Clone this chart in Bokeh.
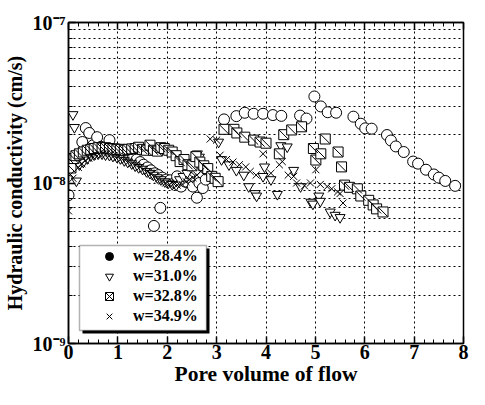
import numpy as np
from bokeh.plotting import figure
from bokeh.models import (LinearAxis, FixedTicker, CustomJSTickFormatter, Legend,
                          LegendItem, BoxAnnotation)
from bokeh.embed import file_html
from bokeh.resources import INLINE

# ---------------- data (pore volume of flow, hydraulic conductivity cm/s) ----------------
x_w284 = [0.00, 0.28, 0.35, 0.42, 0.50, 0.58, 0.66, 0.75, 0.83, 0.92, 1.00, 1.08, 1.15,
          1.22, 1.30, 1.38, 1.45, 1.52, 1.60, 1.67, 1.73, 1.75, 1.82, 1.86, 1.90, 1.98,
          2.06, 2.14, 2.20, 2.28, 2.36, 2.45, 2.52, 2.60, 2.65, 2.72, 2.78,
          3.15, 3.40, 3.57, 3.75, 3.94, 4.14, 4.31, 4.69, 4.82, 4.98, 5.11, 5.25, 5.42,
          5.77, 5.92, 6.01, 6.14, 6.45, 6.53, 6.63, 6.79, 6.98, 7.08, 7.24, 7.40, 7.50,
          7.63, 7.83]
k_w284 = [8.4e-9, 1.80e-8, 2.20e-8, 2.05e-8, 1.72e-8, 1.93e-8, 1.68e-8, 1.65e-8, 1.85e-8,
          1.60e-8, 1.62e-8, 1.58e-8, 1.55e-8, 1.50e-8, 1.45e-8, 1.40e-8, 1.35e-8, 1.30e-8,
          1.25e-8, 1.20e-8, 5.4e-9, 1.15e-8, 1.12e-8, 7.0e-9, 1.08e-8, 1.05e-8, 1.04e-8,
          1.00e-8, 1.10e-8, 9.5e-9, 1.02e-8, 1.08e-8, 9.5e-9, 8.1e-9, 1.00e-8, 9.3e-9,
          1.05e-8,
          2.49e-8, 2.61e-8, 2.74e-8, 2.70e-8, 2.70e-8, 2.65e-8, 2.62e-8, 2.63e-8, 2.52e-8,
          3.46e-8, 3.00e-8, 2.76e-8, 2.74e-8, 2.59e-8, 2.34e-8, 2.19e-8, 2.18e-8, 1.99e-8,
          1.84e-8, 1.69e-8, 1.56e-8, 1.36e-8, 1.32e-8, 1.21e-8, 1.13e-8, 1.08e-8, 1.03e-8,
          9.6e-9]

x_w310 = [0.00, 0.09, 0.12, 0.16, 0.22, 0.30, 0.38, 0.45, 0.52, 0.60, 0.68, 0.75, 0.83,
          0.90, 0.98, 1.05, 1.13, 1.20, 1.28, 1.35, 1.42, 1.50, 1.58, 1.65, 1.72, 1.80,
          1.87, 1.95, 2.02, 2.10, 2.18, 2.25, 2.32, 2.40, 2.48, 2.55, 2.61, 2.65, 2.72,
          2.80, 3.04, 3.10, 3.25, 3.40, 3.55, 3.65, 3.78, 3.81, 3.94, 3.97, 4.10, 4.23,
          4.30, 4.43, 4.56, 4.70, 4.91, 4.95, 5.07, 5.10, 5.30, 5.40, 5.50]
k_w310 = [1.30e-8, 2.67e-8, 2.22e-8, 1.03e-8, 1.30e-8, 1.35e-8, 1.42e-8, 1.48e-8, 1.50e-8,
          1.52e-8, 1.52e-8, 1.50e-8, 1.49e-8, 1.47e-8, 1.45e-8, 1.42e-8, 1.38e-8, 1.35e-8,
          1.32e-8, 1.28e-8, 1.25e-8, 1.22e-8, 1.18e-8, 1.15e-8, 1.12e-8, 1.08e-8, 1.05e-8,
          1.02e-8, 1.00e-8, 9.8e-9, 9.7e-9, 1.05e-8, 1.10e-8, 1.15e-8, 1.25e-8, 1.35e-8,
          1.52e-8, 1.45e-8, 1.30e-8, 1.20e-8, 1.80e-8, 1.40e-8, 1.30e-8, 1.20e-8, 1.12e-8,
          9.5e-9, 8.6e-9, 8.3e-9, 1.10e-8, 1.26e-8, 1.05e-8, 8.5e-9, 1.71e-8, 1.68e-8,
          1.20e-8, 9.5e-9, 7.6e-9, 7.4e-9, 8.3e-9, 7.7e-9, 6.6e-9, 6.3e-9, 6.1e-9]

x_w328 = [0.00, 0.05, 0.11, 0.15, 0.22, 0.30, 0.38, 0.45, 0.52, 0.60, 0.68, 0.75, 0.83,
          0.90, 0.98, 1.05, 1.13, 1.20, 1.28, 1.35, 1.42, 1.50, 1.58, 1.65, 1.72, 1.80,
          1.87, 1.94, 2.03, 2.10, 2.18, 2.26, 2.34, 2.42, 2.50, 2.58, 2.66, 2.74, 2.82,
          2.90, 2.97, 3.03, 3.15, 3.35, 3.41, 3.57, 3.75, 3.88, 4.00, 4.27, 4.36, 4.52,
          4.72, 4.96, 5.01, 5.11, 5.20, 5.46, 5.53, 5.59, 5.69, 5.85, 5.92, 6.08, 6.17,
          6.24, 6.37]
k_w328 = [1.42e-8, 1.24e-8, 1.42e-8, 1.48e-8, 1.52e-8, 1.56e-8, 1.60e-8, 1.62e-8, 1.64e-8,
          1.66e-8, 1.65e-8, 1.66e-8, 1.64e-8, 1.63e-8, 1.62e-8, 1.62e-8, 1.60e-8, 1.62e-8,
          1.63e-8, 1.64e-8, 1.67e-8, 1.62e-8, 1.60e-8, 1.72e-8, 1.60e-8, 1.58e-8, 1.66e-8,
          1.64e-8, 1.60e-8, 1.56e-8, 1.48e-8, 1.36e-8, 1.40e-8, 1.30e-8, 1.28e-8, 1.46e-8,
          1.35e-8, 1.28e-8, 1.23e-8, 1.10e-8, 1.07e-8, 1.02e-8, 2.16e-8, 2.16e-8, 2.05e-8,
          1.93e-8, 1.85e-8, 1.80e-8, 1.77e-8, 1.52e-8, 2.00e-8, 2.14e-8, 2.24e-8, 1.64e-8,
          1.39e-8, 1.52e-8, 1.88e-8, 1.56e-8, 1.26e-8, 9.7e-9, 9.4e-9, 9.2e-9, 8.3e-9,
          7.8e-9, 7.3e-9, 6.9e-9, 6.6e-9]

x_w349 = [0.00, 0.04, 0.09, 0.20, 0.27, 0.34, 0.41, 0.48, 0.55, 0.62, 0.70, 0.77, 0.85,
          0.92, 1.00, 1.07, 1.15, 1.22, 1.30, 1.37, 1.45, 1.52, 1.60, 1.67, 1.75, 1.82,
          1.90, 1.97, 2.05, 2.13, 2.20, 2.30, 2.38, 2.45, 2.52, 2.60, 2.68, 2.87, 3.00,
          3.07, 3.20, 3.33, 3.46, 3.59, 3.68, 3.80, 3.94, 4.10, 4.27, 4.33, 4.45, 4.56,
          4.62, 4.78, 4.90, 5.01, 5.10, 5.24, 5.33, 5.45, 5.50, 5.56]
k_w349 = [6.7e-9, 1.13e-8, 1.07e-8, 1.25e-8, 1.32e-8, 1.38e-8, 1.43e-8, 1.47e-8, 1.50e-8,
          1.52e-8, 1.53e-8, 1.52e-8, 1.50e-8, 1.48e-8, 1.45e-8, 1.42e-8, 1.39e-8, 1.36e-8,
          1.33e-8, 1.30e-8, 1.26e-8, 1.22e-8, 1.18e-8, 1.14e-8, 1.10e-8, 1.06e-8, 1.03e-8,
          1.00e-8, 9.8e-9, 9.9e-9, 9.7e-9, 9.8e-9, 1.02e-8, 1.05e-8, 1.08e-8, 1.12e-8,
          1.18e-8, 1.88e-8, 1.85e-8, 1.49e-8, 1.40e-8, 1.35e-8, 1.30e-8, 1.26e-8, 1.18e-8,
          1.12e-8, 1.52e-8, 1.15e-8, 1.30e-8, 1.36e-8, 1.12e-8, 1.10e-8, 1.00e-8, 9.6e-9,
          1.00e-8, 1.21e-8, 9.8e-9, 9.5e-9, 9.2e-9, 8.8e-9, 8.6e-9, 7.5e-9]

labels = ["w=28.4%", "w=31.0%", "w=32.8%", "w=34.9%"]
x_ticks = [0, 1, 2, 3, 4, 5, 6, 7, 8]
y_ticks = [1e-9, 1e-8, 1e-7]

FONT = "Liberation Serif"

p = figure(width=469, height=389, y_axis_type="log", x_range=(0, 8), y_range=(1e-9, 1e-7),
           output_backend="svg", toolbar_location=None,
           min_border_left=67, min_border_right=6, min_border_top=22, min_border_bottom=46)
p.background_fill_color = "white"
p.border_fill_color = "white"
p.outline_line_color = "black"
p.outline_line_width = 1.5

minor_x = [t / 5 for t in range(0, 41)]
minor_y = [m * 10.0 ** e for e in (-9, -8) for m in range(2, 10)]

sup = CustomJSTickFormatter(code="""
const e = Math.round(Math.log10(tick));
const m = {'-':'\u207b','0':'\u2070','1':'\u00b9','2':'\u00b2','3':'\u00b3','4':'\u2074',
           '5':'\u2075','6':'\u2076','7':'\u2077','8':'\u2078','9':'\u2079'};
return '10' + String(e).split('').map(c => m[c]).join('');
""")

for ax in p.xaxis:
    ax.ticker = FixedTicker(ticks=x_ticks, minor_ticks=minor_x)
for ax in p.yaxis:
    ax.ticker = FixedTicker(ticks=y_ticks, minor_ticks=minor_y)
    ax.formatter = sup

for ax in list(p.xaxis) + list(p.yaxis):
    ax.axis_line_color = "black"
    ax.axis_line_width = 1.5
    ax.major_tick_in = 7
    ax.major_tick_out = 0
    ax.minor_tick_in = 4
    ax.minor_tick_out = 0
    ax.major_tick_line_width = 1.5
    ax.major_label_text_font = FONT
    ax.major_label_text_font_style = "bold"
    ax.major_label_text_font_size = "20px"
    ax.major_label_text_color = "black"
    ax.axis_label_text_font = FONT
    ax.axis_label_text_font_style = "bold"
    ax.axis_label_text_color = "black"

p.xaxis.axis_label = "Pore volume of flow"
p.yaxis.axis_label = "Hydraulic conductivity (cm/s)"
p.xaxis.axis_label_text_font_size = "21.5px"
p.yaxis.axis_label_text_font_size = "20px"
p.xaxis.major_label_standoff = 1
p.xaxis.axis_label_standoff = 0
p.yaxis.major_label_standoff = 3
p.yaxis.axis_label_standoff = 4

top = LinearAxis(ticker=FixedTicker(ticks=x_ticks, minor_ticks=minor_x),
                 formatter=CustomJSTickFormatter(code="return '';"),
                 major_tick_in=7, major_tick_out=0,
                 minor_tick_in=4, minor_tick_out=0, axis_line_width=1.5,
                 major_tick_line_width=1.5, major_label_standoff=0)
p.add_layout(top, "above")

p.xgrid.ticker = FixedTicker(ticks=x_ticks[1:-1])
p.xgrid.grid_line_color = "black"
p.xgrid.grid_line_dash = "2 3"
p.xgrid.grid_line_width = 1
p.ygrid.ticker = FixedTicker(ticks=[1e-8], minor_ticks=minor_y)
p.ygrid.grid_line_color = "black"
p.ygrid.grid_line_dash = "2 3"
p.ygrid.minor_grid_line_color = "black"
p.ygrid.minor_grid_line_dash = "2 3"

r_c = p.scatter(x_w284, k_w284, marker="circle", size=11, fill_color="white",
                line_color="black", line_width=1)
r_t = p.scatter(x_w310, k_w310, marker="inverted_triangle", size=10, fill_color="white",
                line_color="black", line_width=1)
r_s = p.scatter(x_w328, k_w328, marker="square", size=10, fill_color="white",
                line_color="black", line_width=1)
r_sd = p.scatter(x_w328, k_w328, marker="dash", size=13, angle=-np.pi / 4,
                 line_color="black", line_width=1)
r_x = p.scatter(x_w349, k_w349, marker="x", size=10, line_color="black", line_width=1)

# legend swatches (zero-size on the plot, drawn only in the legend)
r_cl = p.scatter(x_w284[:1], k_w284[:1], marker="circle", size=0, fill_color="black",
                 line_color="black")
r_sl = p.scatter(x_w328[:1], k_w328[:1], marker="square_x", size=0, fill_color="white",
                 line_color="black")

# legend frame: drop shadow + white box (screen units relative to the plot frame)
shadow = BoxAnnotation(left=14, right=141, top=95, bottom=10,
                       left_units="screen", right_units="screen",
                       top_units="screen", bottom_units="screen",
                       fill_color="black", fill_alpha=1, line_color=None)
box = BoxAnnotation(left=11, right=138, top=98, bottom=13,
                    left_units="screen", right_units="screen",
                    top_units="screen", bottom_units="screen",
                    fill_color="white", fill_alpha=1, line_color="black", line_width=1.5)
p.add_layout(shadow)
p.add_layout(box)

legend = Legend(items=[LegendItem(label=labels[0], renderers=[r_cl]),
                       LegendItem(label=labels[1], renderers=[r_t]),
                       LegendItem(label=labels[2], renderers=[r_sl]),
                       LegendItem(label=labels[3], renderers=[r_x])],
                location=(31, 17), padding=0, spacing=0, glyph_width=20, glyph_height=20,
                label_height=19, label_standoff=14, margin=0,
                label_text_font=FONT, label_text_font_style="bold",
                label_text_font_size="16px", label_text_color="black",
                border_line_color=None, background_fill_alpha=0)
p.add_layout(legend, "center")

open("out.html", "w").write(file_html(p, INLINE))
